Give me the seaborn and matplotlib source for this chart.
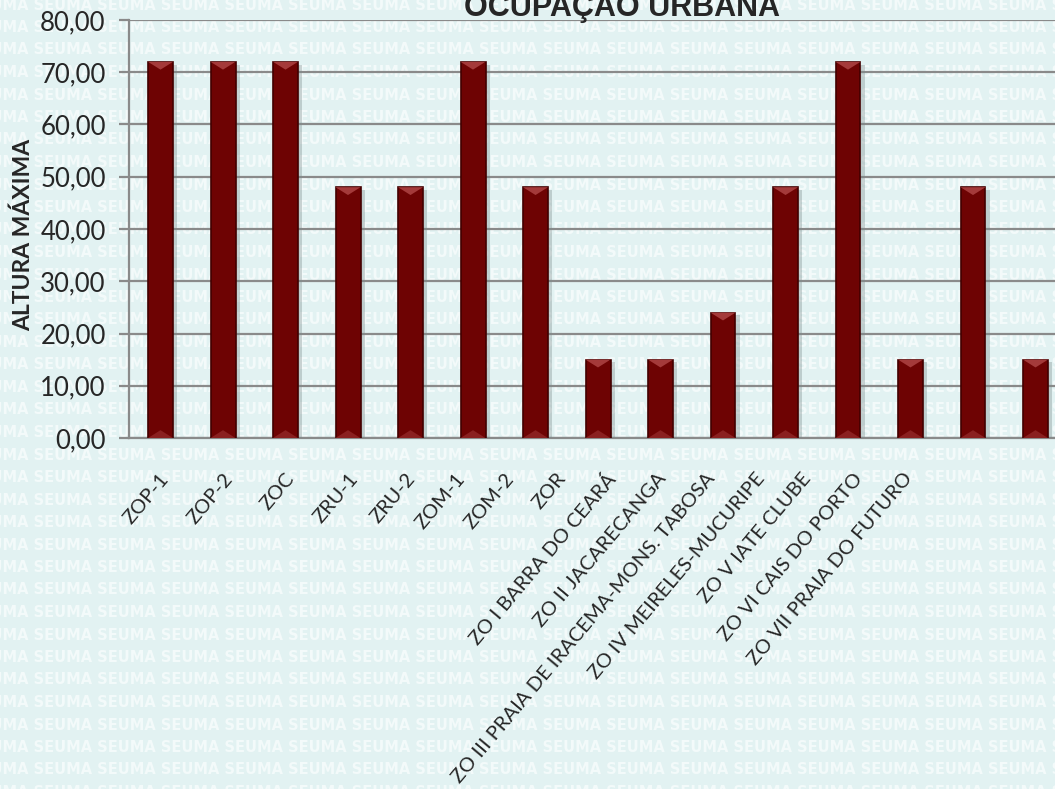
import matplotlib
matplotlib.use("Agg")
import matplotlib.pyplot as plt
import matplotlib.patheffects as pe
from matplotlib.patches import Polygon
from matplotlib.transforms import ScaledTranslation
import seaborn as sns
import pandas as pd

# Zones and their maximum building height
zonas = [
    "ZOP-1", "ZOP-2", "ZOC", "ZRU-1", "ZRU-2", "ZOM-1", "ZOM-2", "ZOR",
    "ZO I BARRA DO CEARÁ", "ZO II JACARECANGA",
    "ZO III PRAIA DE IRACEMA-MONS. TABOSA", "ZO IV MEIRELES-MUCURIPE",
    "ZO V IATE CLUBE", "ZO VI CAIS DO PORTO", "ZO VII PRAIA DO FUTURO",
]
altura_maxima = [72, 72, 72, 48, 48, 72, 48, 15, 15, 24, 48, 72, 15, 48, 15]
y_ticks = [0, 10, 20, 30, 40, 50, 60, 70, 80]

# horizontal nudge (pixels) of each category label relative to its bar
label_dx_px = [-1, 0, -1, 0, -5, -18, -31, -42, -55, -67, -80, -93, -109, -120, -133]

df = pd.DataFrame({"zona": zonas, "altura": altura_maxima})

sns.set_theme(style="white")
plt.rcParams["font.family"] = ["Lato", "DejaVu Sans"]

BG = "#E2F2F2"
GRID = "#8A8A8A"
BAR = "#6E0303"
W, H = 1055, 789

fig = plt.figure(figsize=(W / 100, H / 100), dpi=100, facecolor=BG)

# Repeated "SEUMA" watermark behind the chart
row = "SEUMA " * 18
for i in range(36):
    y_px = 5 + i * 22.5
    fig.text(-30 / W, 1 - y_px / H, row, color="#F3FAFA", fontsize=10.5,
             fontweight="bold", va="center", ha="left", zorder=0,
             family=["DejaVu Sans"])

# plot area: 15 slots of 62.5 px starting at x=129 (last slot runs past the edge)
ax = fig.add_axes([129.25 / W, 1 - 438 / H, 937.5 / W, 418 / H])
ax.set_facecolor("none")
ax.set_zorder(2)

sns.barplot(data=df, x="zona", y="altura", color=BAR, width=0.4,
            saturation=1, edgecolor="#420000", linewidth=1.2, ax=ax, zorder=3)

shadow = [pe.SimplePatchShadow(offset=(3, -2), shadow_rgbFace="#7A8A8A",
                               alpha=0.35), pe.Normal()]
for p in ax.patches:
    p.set_path_effects(shadow)

ax.set_ylim(0, 80)
ax.set_xlim(-0.5, len(zonas) - 0.5)
ax.set_yticks(y_ticks)
ax.set_yticklabels([f"{v:.2f}".replace(".", ",") for v in y_ticks], fontsize=18.5)
ax.yaxis.grid(True, color=GRID, linewidth=1.6, zorder=1)
ax.set_axisbelow(True)

# Bevel highlights at the top and bottom of each bar
for p in list(ax.patches):
    x0, w, h = p.get_x(), p.get_width(), p.get_height()
    d = 1.5
    top = Polygon([[x0, h], [x0 + w, h], [x0 + w / 2, h - d]], closed=True,
                  facecolor="#A43A3A", edgecolor="none", zorder=4)
    bot = Polygon([[x0, 0], [x0 + w, 0], [x0 + w / 2, d]], closed=True,
                  facecolor="#8A2020", edgecolor="none", zorder=4)
    ax.add_patch(top)
    ax.add_patch(bot)

for s in ["top", "right"]:
    ax.spines[s].set_visible(False)
for s in ["left", "bottom"]:
    ax.spines[s].set_color(GRID)
    ax.spines[s].set_linewidth(1.6)

ax.tick_params(axis="y", length=7, width=1.6, color=GRID, pad=10, left=True)
ax.set_xticks(range(len(zonas)))
ax.set_xticklabels([])
ax.tick_params(axis="x", length=0)
ax.set_xlabel("")
ax.set_ylabel("")

# Category labels, rotated under the baseline
base = ax.get_xaxis_transform()
for i, (name, dx) in enumerate(zip(zonas, label_dx_px)):
    tr = base + ScaledTranslation(dx / 100, -32 / 100, fig.dpi_scale_trans)
    ax.text(i, 0, name, transform=tr, rotation=50, rotation_mode="anchor",
            ha="right", va="top", fontsize=14.5, clip_on=False)

fig.text(23 / W, 1 - 235 / H, "ALTURA MÁXIMA", rotation=90,
         ha="center", va="center", fontsize=16.5, fontweight="bold")
fig.text(622 / W, 1 - 16 / H, "OCUPAÇÃO URBANA", ha="center",
         va="baseline", fontsize=22, fontweight="bold",
         family=["Liberation Sans", "DejaVu Sans"])

fig.savefig("out.png", dpi=100, facecolor=BG)
